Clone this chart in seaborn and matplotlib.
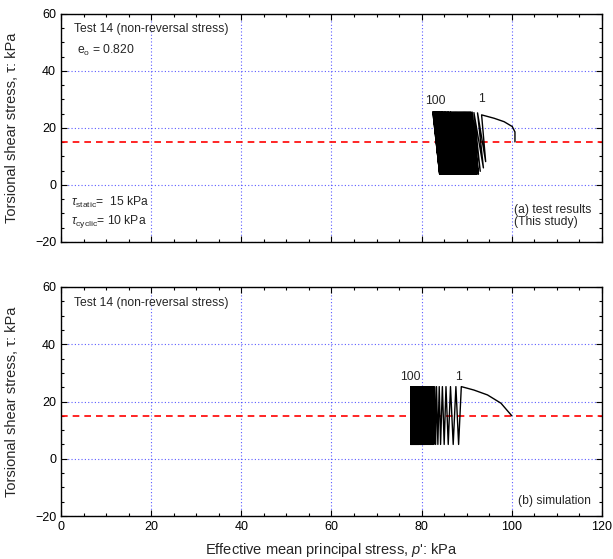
import numpy as np
import pandas as pd
import matplotlib
matplotlib.use("Agg")
import matplotlib.pyplot as plt
from matplotlib.ticker import MultipleLocator
import seaborn as sns

# ---------------- data ----------------
tau_static = 15.0

# (a) test results: monotonic loading path before cycling
mono_p_a = [100.7, 100.7, 100.1, 98.3, 96.1, 93.3]
mono_t_a = [15.1, 18.6, 20.5, 22.2, 23.4, 24.6]
# cycle tops (p' at tau max) and bottoms (p' at tau min)
top_a = [93.3, 92.4, 91.6, 91.2, 90.9, 90.7, 90.5, 90.3, 90.1, 89.9,
         89.7, 89.5, 89.3, 89.1, 88.9, 88.7, 88.5, 88.3, 88.1, 87.9,
         87.7, 87.5, 87.3, 87.1, 86.9, 86.7, 86.5, 86.4, 86.2, 86.0,
         85.9, 85.7, 85.6, 85.4, 85.3, 85.1, 85.0, 84.8, 84.7, 84.6,
         84.4, 84.3, 84.2, 84.0, 83.9, 83.8, 83.7, 83.6, 83.5, 83.4,
         83.3, 83.2, 83.1, 83.0, 82.9, 82.8, 82.7, 82.6, 82.5]
bot_a = [94.2, 93.7, 93.0, 92.6, 92.3, 92.1, 91.9, 91.7, 91.5, 91.3,
         91.1, 90.9, 90.7, 90.5, 90.3, 90.1, 89.9, 89.7, 89.5, 89.3,
         89.1, 88.9, 88.7, 88.5, 88.3, 88.1, 87.9, 87.8, 87.6, 87.4,
         87.3, 87.1, 87.0, 86.8, 86.7, 86.5, 86.4, 86.2, 86.1, 86.0,
         85.8, 85.7, 85.6, 85.4, 85.3, 85.2, 85.1, 85.0, 84.9, 84.8,
         84.7, 84.6, 84.5, 84.4, 84.3, 84.2, 84.1, 84.0, 84.0]
first_hi_a = [24.6, 25.3, 25.4]
first_lo_a = [8.2, 6.0, 4.8]
tau_max_a = 25.6
tau_min_a = 3.8

# (b) simulation
mono_p_b = [100.0, 97.6, 94.6, 91.6, 88.8]
mono_t_b = [15.0, 19.4, 22.3, 24.0, 25.2]
top_b = [88.8, 87.6, 86.4, 85.4, 84.6, 83.9, 83.3, 82.9, 82.6, 82.3,
         82.0, 81.8, 81.6, 81.4, 81.2, 81.0, 80.8, 80.7, 80.5, 80.4,
         80.2, 80.1, 79.9, 79.8, 79.7, 79.5, 79.4, 79.3, 79.2, 79.1,
         79.0, 78.9, 78.8, 78.7, 78.6, 78.5, 78.4, 78.3, 78.2, 78.1,
         78.0, 77.9, 77.8, 77.7, 77.6]
bot_b = [88.2, 87.0, 85.9, 85.0, 84.2, 83.6, 83.1, 82.7, 82.4, 82.1,
         81.9, 81.7, 81.5, 81.3, 81.1, 80.9, 80.7, 80.6, 80.4, 80.3,
         80.1, 80.0, 79.8, 79.7, 79.6, 79.4, 79.3, 79.2, 79.1, 79.0,
         78.9, 78.8, 78.7, 78.6, 78.5, 78.4, 78.3, 78.2, 78.1, 78.0,
         77.9, 77.8, 77.7, 77.6, 77.6]
tau_max_b = 25.2
tau_min_b = 5.0

x_ticks = [0, 20, 40, 60, 80, 100, 120]
y_ticks = [-20, 0, 20, 40, 60]


def build_path(mono_p, mono_t, tops, bots, his, los):
    p, t = list(mono_p), list(mono_t)
    for tp, bp, h, l in zip(tops, bots, his, los):
        p += [tp, bp]
        t += [h, l]
    return pd.DataFrame({"p": p, "tau": t})


n_a = len(top_a)
hi_a = first_hi_a + [tau_max_a] * (n_a - len(first_hi_a))
lo_a = first_lo_a + [tau_min_a] * (n_a - len(first_lo_a))
df_a = build_path(mono_p_a, mono_t_a, top_a, bot_a, hi_a, lo_a)
df_b = build_path(mono_p_b, mono_t_b, top_b, bot_b,
                  [tau_max_b] * len(top_b), [tau_min_b] * len(top_b))

# ---------------- styling ----------------
sns.set_theme(style="ticks")
plt.rcParams["font.family"] = ["Liberation Sans", "DejaVu Sans"]
plt.rcParams["mathtext.fontset"] = "custom"
plt.rcParams["mathtext.rm"] = "Liberation Sans"
plt.rcParams["mathtext.it"] = "Liberation Sans:italic"
plt.rcParams["axes.edgecolor"] = "black"

fig = plt.figure(figsize=(6.13, 5.59), dpi=100)
ax_a = fig.add_axes([0.0995, 0.5671, 0.8825, 0.4079])
ax_b = fig.add_axes([0.0995, 0.0769, 0.8825, 0.4097])

for ax, df in ((ax_a, df_a), (ax_b, df_b)):
    ax.set_axisbelow(True)
    ax.axhline(tau_static, color="red", ls=(0, (4, 3)), lw=1.2, zorder=1.5)
    sns.lineplot(data=df, x="p", y="tau", sort=False, estimator=None,
                 color="black", lw=1.0, ax=ax, zorder=2)
    ax.set_xlim(x_ticks[0], x_ticks[-1])
    ax.set_ylim(y_ticks[0], y_ticks[-1])
    ax.set_xticks(x_ticks)
    ax.set_yticks(y_ticks)
    ax.xaxis.set_minor_locator(MultipleLocator(5))
    ax.yaxis.set_minor_locator(MultipleLocator(5))
    ax.grid(True, which="major", color="#3333ff", ls=(0, (1, 2)), lw=0.8,
            alpha=0.8)
    ax.tick_params(which="both", direction="in", top=True, right=True,
                   width=0.8, colors="black", labelsize=9)
    ax.tick_params(which="major", length=4)
    ax.tick_params(which="minor", length=2.5)
    for s in ax.spines.values():
        s.set_linewidth(1.0)
        s.set_color("black")
    ax.set_ylabel("Torsional shear stress, \u03c4: kPa", fontsize=10.5)
    ax.yaxis.set_label_coords(-0.078, 0.5)
    ax.set_xlabel("")

ax_a.tick_params(labelbottom=False)
ax_b.set_xlabel("Effective mean principal stress, $\\it{p}$': kPa",
                fontsize=10.5, labelpad=6)

fs = 8.7
ax_a.text(0.024, 0.934, "Test 14 (non-reversal stress)", transform=ax_a.transAxes,
          fontsize=fs, va="center")
ax_a.text(0.03, 0.842, "e$_{\\rm o}$ = 0.820", transform=ax_a.transAxes,
          fontsize=fs, va="center")
ax_a.text(0.019, 0.175, "$\\tau_{\\rm static}$=  15 kPa", transform=ax_a.transAxes,
          fontsize=fs, va="center")
ax_a.text(0.019, 0.088, "$\\tau_{\\rm cyclic}$= 10 kPa", transform=ax_a.transAxes,
          fontsize=fs, va="center")
ax_a.text(0.838, 0.14, "(a) test results", transform=ax_a.transAxes,
          fontsize=fs, va="center")
ax_a.text(0.838, 0.088, "(This study)", transform=ax_a.transAxes,
          fontsize=fs, va="center")
ax_a.text(83.1, 29.5, "100", fontsize=fs, ha="center", va="center")
ax_a.text(93.3, 30.0, "1", fontsize=fs, ha="center", va="center")

ax_b.text(0.024, 0.93, "Test 14 (non-reversal stress)", transform=ax_b.transAxes,
          fontsize=fs, va="center")
ax_b.text(0.845, 0.065, "(b) simulation", transform=ax_b.transAxes,
          fontsize=fs, va="center")
ax_b.text(77.6, 28.6, "100", fontsize=fs, ha="center", va="center")
ax_b.text(88.2, 28.6, "1", fontsize=fs, ha="center", va="center")

fig.savefig("out.png", dpi=100)
